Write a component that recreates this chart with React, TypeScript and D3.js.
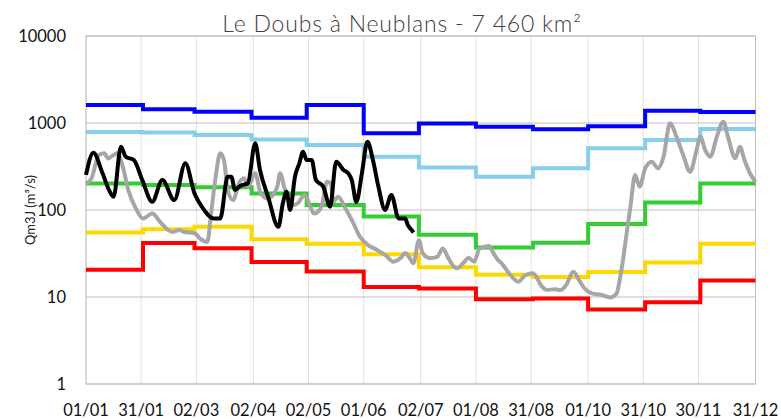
import * as d3 from "d3";

// month start days (0 = 1 Jan), last entry closes the year
const monthStarts = [0, 31, 59, 90, 120, 151, 181, 212, 243, 273, 304, 334];
const yearEnd = 364;

const tickLabels = ["01/01", "31/01", "02/03", "02/04", "02/05", "01/06", "02/07", "01/08", "31/08", "01/10", "31/10", "30/11", "31/12"];
const yTicks = [1, 10, 100, 1000, 10000];

// monthly reference flows (m3/s)
const blueSeries = [1610, 1440, 1350, 1150, 1610, 760, 990, 905, 845, 915, 1385, 1335];
const lightBlueSeries = [790, 780, 728, 648, 558, 410, 307, 241, 302, 512, 638, 853];
const greenSeries = [202, 194, 182, 155, 114, 84, 52, 37, 42, 69, 122, 202];
const yellowSeries = [55, 60, 64, 46, 41, 31, 22, 18, 17, 19.4, 25, 41];
const redSeries = [20.6, 41.8, 36.3, 25.3, 19.7, 13, 12.5, 9.4, 9.6, 7.2, 8.7, 15.5];

// previous year, daily flow
const grayDays = [0, 3, 7, 10, 12, 15, 17, 20, 23, 27, 31, 36, 41, 47, 51, 53, 59, 62, 66, 68, 70.5, 73, 75, 77, 80, 83, 86, 88, 92, 95, 99, 104, 105.5, 108, 111, 113, 115, 119, 122, 124, 128, 131, 133, 134.5, 137, 141, 144.5, 149, 153, 158, 163, 167, 171, 173.5, 176, 178, 181, 183, 187, 191, 194, 197, 200, 202, 205, 208, 211, 214, 219, 221.5, 224, 226, 230, 235, 239, 243, 248, 250.5, 255, 258, 261, 265, 268, 271, 275, 280, 285, 288.5, 290, 292, 294, 296, 298.5, 301, 304, 307.6, 311, 314, 317.5, 321, 325, 328.4, 332, 334, 336.6, 339.4, 343, 346.5, 349, 353, 355.5, 358, 361, 364];
const grayValues = [200, 231, 429, 449, 392, 429, 449, 315, 170, 105, 80, 91, 70, 56, 59, 56, 54, 47, 43, 91, 241, 449, 375, 170, 130, 200, 231, 185, 264, 155, 136, 185, 264, 177, 130, 114, 119, 149, 109, 91, 109, 211, 203, 124, 142, 105, 77, 49, 40, 35, 30, 25.5, 28, 32, 28, 24.4, 45, 32, 28, 29, 36, 28, 22.3, 21.4, 24.4, 28, 25.5, 36, 38.5, 32, 26.6, 24.4, 18.7, 15, 17.9, 18.7, 13.1, 12, 12.3, 12, 13.7, 19.5, 15.7, 12.6, 11, 10.6, 9.9, 11, 15, 27, 55, 109, 253, 185, 301, 359, 301, 410, 992, 697, 410, 275, 490, 697, 490, 410, 697, 1035, 697, 393, 534, 375, 264, 210];

// current year, daily flow
const blackDays = [0, 4, 9, 12.5, 15, 19, 21.6, 26, 30.6, 36, 41.5, 48, 54, 59, 63, 69.6, 73, 77, 79, 81, 84, 88, 92, 94.6, 99, 104.6, 107, 109, 111, 113.6, 116, 118, 120, 122.7, 125, 129, 132.7, 136, 140, 142.6, 144.5, 147, 150, 153, 156, 159, 162.6, 166, 170, 173.5, 175, 177, 178];
const blackValues = [253, 456, 264, 170, 142, 534, 410, 375, 221, 124, 221, 130, 344, 155, 109, 80, 80, 241, 241, 170, 190, 203, 585, 288, 142, 64, 119, 162, 100, 241, 344, 467, 375, 375, 221, 185, 109, 359, 288, 264, 221, 124, 264, 610, 375, 185, 100, 149, 80, 80, 67, 59, 55];

const steps = [
  { name: "red", color: "#ff0000", values: redSeries },
  { name: "yellow", color: "#ffd700", values: yellowSeries },
  { name: "green", color: "#33cc33", values: greenSeries },
  { name: "lightblue", color: "#87ceeb", values: lightBlueSeries },
  { name: "blue", color: "#0000ff", values: blueSeries },
];

export default function App() {
  const width = 781;
  const height = 419;
  const margin = { top: 36, right: 25.5, bottom: 35, left: 86 };
  const innerWidth = width - margin.left - margin.right;
  const innerHeight = height - margin.top - margin.bottom;

  const x = d3.scaleLinear().domain([0, yearEnd]).range([0, innerWidth]);
  const y = d3.scaleLog().domain([1, 10000]).range([innerHeight, 0]);
  const xTicks = tickLabels.map((_, i) => Math.floor((i * yearEnd) / 12));

  const stepLine = d3
    .line<[number, number]>()
    .x((d) => x(d[0]))
    .y((d) => y(d[1]))
    .curve(d3.curveStepAfter);

  const dailyLine = d3
    .line<[number, number]>()
    .x((d) => x(d[0]))
    .y((d) => y(d[1]))
    .curve(d3.curveMonotoneX);

  const stepPoints = (values: number[]): [number, number][] => [
    ...monthStarts.map((day, i) => [day, values[i]] as [number, number]),
    [yearEnd, values[values.length - 1]],
  ];

  const grayPoints = grayDays.map((d, i) => [d, grayValues[i]] as [number, number]);
  const blackPoints = blackDays.map((d, i) => [d, blackValues[i]] as [number, number]);

  return (
    <svg
      width={width}
      height={height}
      style={{ position: "absolute", left: 0, top: 0, background: "#fff" }}
      fontFamily="Lato, 'Open Sans', sans-serif"
    >
      <text x={402} y={32} textAnchor="middle" fontSize={23} fontWeight={300} fill="#404040" letterSpacing={0.8}>
        Le Doubs à Neublans - 7 460 km²
      </text>
      <g transform={`translate(${margin.left}, ${margin.top})`}>
        {xTicks.map((t) => (
          <line key={`vx${t}`} x1={x(t)} x2={x(t)} y1={0} y2={innerHeight} stroke="#e0e0e0" strokeWidth={1} />
        ))}
        {yTicks.map((t) => (
          <g key={`gy${t}`} transform={`translate(0, ${y(t)})`}>
            <line x1={0} x2={innerWidth} stroke="#bfbfbf" strokeWidth={1} />
            <text x={-20} y={5.5} textAnchor="end" fontSize={16.5} fill="#111">
              {t}
            </text>
          </g>
        ))}
        <rect x={0} y={0} width={innerWidth} height={innerHeight} fill="none" stroke="#bfbfbf" strokeWidth={1} />
        {xTicks.map((t, i) => (
          <text key={`tx${t}`} x={x(t)} y={innerHeight + 32} textAnchor="middle" fontSize={16.5} fill="#111">
            {tickLabels[i]}
          </text>
        ))}
        {steps.map((s) => (
          <path key={s.name} d={stepLine(stepPoints(s.values)) ?? ""} fill="none" stroke={s.color} strokeWidth={4} />
        ))}
        <path d={dailyLine(grayPoints) ?? ""} fill="none" stroke="#a6a6a6" strokeWidth={4} strokeLinejoin="round" />
        <path d={dailyLine(blackPoints) ?? ""} fill="none" stroke="#000" strokeWidth={4} strokeLinejoin="round" />
      </g>
      <text
        transform={`translate(35, ${margin.top + innerHeight / 2}) rotate(-90)`}
        textAnchor="middle"
        fontSize={13}
        fill="#222"
      >
        Qm3J (m³/s)
      </text>
    </svg>
  );
}
